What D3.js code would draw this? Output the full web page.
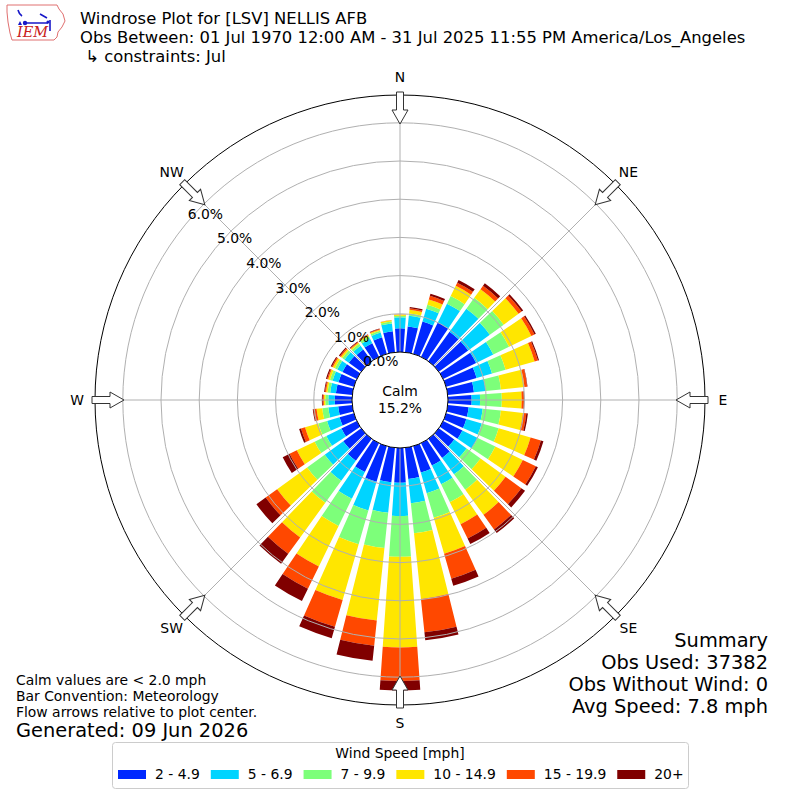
<!DOCTYPE html>
<html lang="en">
<head>
<meta charset="utf-8">
<title>Windrose Plot for [LSV] NELLIS AFB</title>
<script src="https://cdn.jsdelivr.net/npm/d3@7"></script>
<style>
  body { margin: 0; background: #fff; }
  svg { display: block; font-family: "DejaVu Sans", sans-serif; }
</style>
</head>
<body>
<script>
// wind directions (deg, meteorological: where the wind comes from)
var directions = [0, 10, 20, 30, 40, 50, 60, 70, 80, 90, 100, 110, 120, 130, 140, 150, 160, 170,
                  180, 190, 200, 210, 220, 230, 240, 250, 260, 270, 280, 290, 300, 310, 320, 330, 340, 350];

var speedBins = ["2 - 4.9", "5 - 6.9", "7 - 9.9", "10 - 14.9", "15 - 19.9", "20+"];

// percent of observations per direction, one array per speed bin
var speed2to5 = [0.62, 0.68, 0.88, 1.00, 0.95, 0.95, 0.96, 0.83, 0.69, 0.62, 0.55, 0.55, 0.56, 0.50, 0.62, 0.65, 0.72, 0.82,
                 0.91, 0.91, 0.97, 0.84, 0.71, 0.58, 0.45, 0.39, 0.37, 0.45, 0.43, 0.42, 0.42, 0.40, 0.38, 0.40, 0.45, 0.55];
var speed5to7 = [0.29, 0.28, 0.35, 0.55, 0.75, 0.70, 0.50, 0.42, 0.31, 0.22, 0.37, 0.42, 0.45, 0.40, 0.53, 0.55, 0.56, 0.64,
                 0.87, 0.80, 0.78, 0.78, 0.65, 0.60, 0.44, 0.34, 0.26, 0.17, 0.15, 0.16, 0.15, 0.14, 0.12, 0.13, 0.13, 0.21];
var speed7to10 = [0.04, 0.06, 0.11, 0.22, 0.35, 0.45, 0.46, 0.37, 0.40, 0.57, 0.48, 0.46, 0.51, 0.45, 0.50, 0.52, 0.67, 0.79,
                  1.07, 0.93, 0.92, 0.79, 0.71, 0.57, 0.34, 0.24, 0.16, 0.08, 0.07, 0.07, 0.07, 0.07, 0.06, 0.06, 0.05, 0.05];
var speed10to15 = [0.03, 0.10, 0.14, 0.30, 0.28, 0.48, 0.65, 0.79, 0.62, 0.52, 0.58, 0.87, 0.80, 0.81, 0.81, 0.64, 0.98, 1.73,
                   2.37, 1.91, 1.52, 1.18, 1.12, 0.97, 0.52, 0.36, 0.15, 0.04, 0.04, 0.05, 0.06, 0.05, 0.04, 0.04, 0.03, 0.03];
var speed15to20 = [0.01, 0.04, 0.10, 0.09, 0.11, 0.10, 0.09, 0.09, 0.07, 0.06, 0.09, 0.28, 0.38, 0.51, 0.47, 0.42, 0.68, 0.88,
                   0.88, 0.66, 0.73, 0.65, 0.53, 0.37, 0.21, 0.11, 0.08, 0.03, 0.03, 0.03, 0.03, 0.03, 0.02, 0.02, 0.02, 0.01];
var speed20up = [0.00, 0.03, 0.06, 0.08, 0.08, 0.05, 0.04, 0.03, 0.01, 0.01, 0.04, 0.07, 0.06, 0.12, 0.12, 0.16, 0.19, 0.21,
                 0.25, 0.40, 0.31, 0.36, 0.32, 0.30, 0.20, 0.05, 0.02, 0.02, 0.02, 0.03, 0.03, 0.03, 0.02, 0.01, 0.01, 0.00];

var series = [speed2to5, speed5to7, speed7to10, speed10to15, speed15to20, speed20up];

var radialTicks = [0, 1, 2, 3, 4, 5, 6];
var compassLabels = ["N", "NE", "E", "SE", "S", "SW", "W", "NW"];
var compassAngles = [0, 45, 90, 135, 180, 225, 270, 315];

var calmPct = "15.2%";
var titleLines = ["Windrose Plot for [LSV] NELLIS AFB",
                  "Obs Between: 01 Jul 1970 12:00 AM - 31 Jul 2025 11:55 PM America/Los_Angeles",
                  " \u21b3 constraints: Jul"];
var summaryLines = ["Summary", "Obs Used: 37382", "Obs Without Wind: 0", "Avg Speed: 7.8 mph"];
var noteLines = ["Calm values are < 2.0 mph", "Bar Convention: Meteorology", "Flow arrows relative to plot center."];

var colors = ["#0028ff", "#00d4ff", "#7dff7a", "#ffe600", "#ff4800", "#800000"];

var svg = d3.select("body").append("svg")
    .attr("width", 800)
    .attr("height", 800);

var r = d3.scaleLinear().domain([0, 6.728]).range([48, 305]);
var ang = d3.scaleLinear().domain([0, 360]).range([0, 2 * Math.PI]);

var table = directions.map(function(d, i) {
    var row = {dir: d};
    speedBins.forEach(function(k, j) { row[k] = series[j][i]; });
    return row;
});
var stacked = d3.stack().keys(speedBins)(table);

var plot = svg.append("g").attr("transform", "translate(400,400)");
var arc = d3.arc();

// bars
plot.selectAll("g.layer")
    .data(stacked)
    .enter()
    .append("g")
    .attr("class", "layer")
    .attr("fill", function(d, i) { return colors[i]; })
    .selectAll("path")
    .data(function(d) { return d; })
    .enter()
    .append("path")
    .attr("d", function(d) {
        var a = ang(d.data.dir);
        return arc({innerRadius: r(d[0]), outerRadius: r(d[1]),
                    startAngle: a - ang(4), endAngle: a + ang(4)});
    });

// grid
plot.selectAll("circle.grid")
    .data(radialTicks.slice(1))
    .enter()
    .append("circle")
    .attr("class", "grid")
    .attr("r", function(d) { return r(d); })
    .attr("fill", "none")
    .attr("stroke", "#b0b0b0")
    .attr("stroke-width", 1);

plot.selectAll("line.spoke")
    .data(compassAngles)
    .enter()
    .append("line")
    .attr("class", "spoke")
    .attr("x1", 0).attr("y1", 0)
    .attr("x2", function(d) { return r.range()[1] * Math.sin(ang(d)); })
    .attr("y2", function(d) { return -r.range()[1] * Math.cos(ang(d)); })
    .attr("stroke", "#b0b0b0")
    .attr("stroke-width", 1);

plot.append("circle")
    .attr("r", r.range()[1])
    .attr("fill", "none")
    .attr("stroke", "#000")
    .attr("stroke-width", 1);

// calm circle
plot.append("circle")
    .attr("r", r(0))
    .attr("fill", "#fff")
    .attr("stroke", "#000")
    .attr("stroke-width", 1);

plot.append("text").attr("x", 0).attr("y", -4).attr("text-anchor", "middle")
    .attr("font-size", "13.9px").text("Calm");
plot.append("text").attr("x", 0).attr("y", 13).attr("text-anchor", "middle")
    .attr("font-size", "13.9px").text(calmPct);

// radial tick labels
var labelAng = ang(310);
plot.selectAll("text.rtick")
    .data(radialTicks)
    .enter()
    .append("text")
    .attr("class", "rtick")
    .attr("x", function(d) { return r(d) * Math.sin(labelAng); })
    .attr("y", function(d) { return -r(d) * Math.cos(labelAng) - 3; })
    .attr("font-size", "13.9px")
    .text(function(d) { return d.toFixed(1) + "%"; });

// flow arrows on the rim
var arrowPts = [[0, -276], [8, -290], [3.5, -290], [3.5, -308], [-3.5, -308], [-3.5, -290], [-8, -290]];
plot.selectAll("path.arrow")
    .data(compassAngles)
    .enter()
    .append("path")
    .attr("class", "arrow")
    .attr("d", d3.line()(arrowPts) + "Z")
    .attr("transform", function(d) { return "rotate(" + d + ")"; })
    .attr("fill", "#fff")
    .attr("stroke", "#333")
    .attr("stroke-width", 1);

// compass labels
plot.selectAll("text.compass")
    .data(compassAngles)
    .enter()
    .append("text")
    .attr("class", "compass")
    .attr("x", function(d) { return 323 * Math.sin(ang(d)); })
    .attr("y", function(d) { return -323 * Math.cos(ang(d)) + 5; })
    .attr("text-anchor", "middle")
    .attr("font-size", "13.9px")
    .text(function(d, i) { return compassLabels[i]; });

// header
svg.selectAll("text.title")
    .data(titleLines)
    .enter()
    .append("text")
    .attr("class", "title")
    .attr("x", 80)
    .attr("y", function(d, i) { return 24 + i * 19; })
    .attr("font-size", "16.4px")
    .attr("xml:space", "preserve")
    .style("white-space", "pre")
    .text(function(d) { return d; });

// IEM logo
var logo = svg.append("g");
logo.append("path")
    .attr("d", "M7,5 L57,5 L59,9 L63,14 L65,21 L62,27 L58,32 L57,37 L54,40 L12,40 L10,33 L8,22 L7,12 Z")
    .attr("fill", "none").attr("stroke", "#e07070").attr("stroke-width", 1);
logo.append("path")
    .attr("d", "M18,10 Q19,14 22,16 M23,23 L48,23 M40,14 L47,18 M50,20 L50,31")
    .attr("fill", "none").attr("stroke", "#1818c8").attr("stroke-width", 1.6);
logo.append("circle").attr("cx", 25).attr("cy", 23).attr("r", 2.2).attr("fill", "#1818c8");
logo.append("circle").attr("cx", 48).attr("cy", 22).attr("r", 1.6).attr("fill", "#1818c8");
logo.append("path").attr("d", "M18,25 L20,21 L22,25 Z").attr("fill", "#1818c8");
logo.append("text").attr("x", 17).attr("y", 37)
    .attr("font-family", "'DejaVu Serif', 'Liberation Serif', serif")
    .attr("font-style", "italic").attr("font-size", "14.5px").attr("fill", "#c82020")
    .text("IEM");

// summary
svg.selectAll("text.summary")
    .data(summaryLines)
    .enter()
    .append("text")
    .attr("class", "summary")
    .attr("x", 768)
    .attr("y", function(d, i) { return 647 + i * 22; })
    .attr("text-anchor", "end")
    .attr("font-size", "19.4px")
    .text(function(d) { return d; });

// notes
svg.selectAll("text.note")
    .data(noteLines)
    .enter()
    .append("text")
    .attr("class", "note")
    .attr("x", 16)
    .attr("y", function(d, i) { return 685 + i * 16; })
    .attr("font-size", "13.9px")
    .text(function(d) { return d; });

svg.append("text").attr("x", 16).attr("y", 737).attr("font-size", "19.4px")
    .text("Generated: 09 Jun 2026");

// legend
var legend = svg.append("g");
legend.append("rect")
    .attr("x", 112.5).attr("y", 742.5).attr("width", 576).attr("height", 46)
    .attr("rx", 3).attr("fill", "#fff").attr("stroke", "#cccccc");
legend.append("text").attr("x", 400).attr("y", 758).attr("text-anchor", "middle")
    .attr("font-size", "13.9px").text("Wind Speed [mph]");

var lx = 118;
speedBins.forEach(function(k, i) {
    legend.append("rect").attr("x", lx).attr("y", 770).attr("width", 28).attr("height", 9)
        .attr("fill", colors[i]);
    var t = legend.append("text").attr("x", lx + 37).attr("y", 779)
        .attr("font-size", "13.9px").text(k);
    lx = lx + 37 + t.node().getComputedTextLength() + 11;
});
</script>
</body>
</html>
